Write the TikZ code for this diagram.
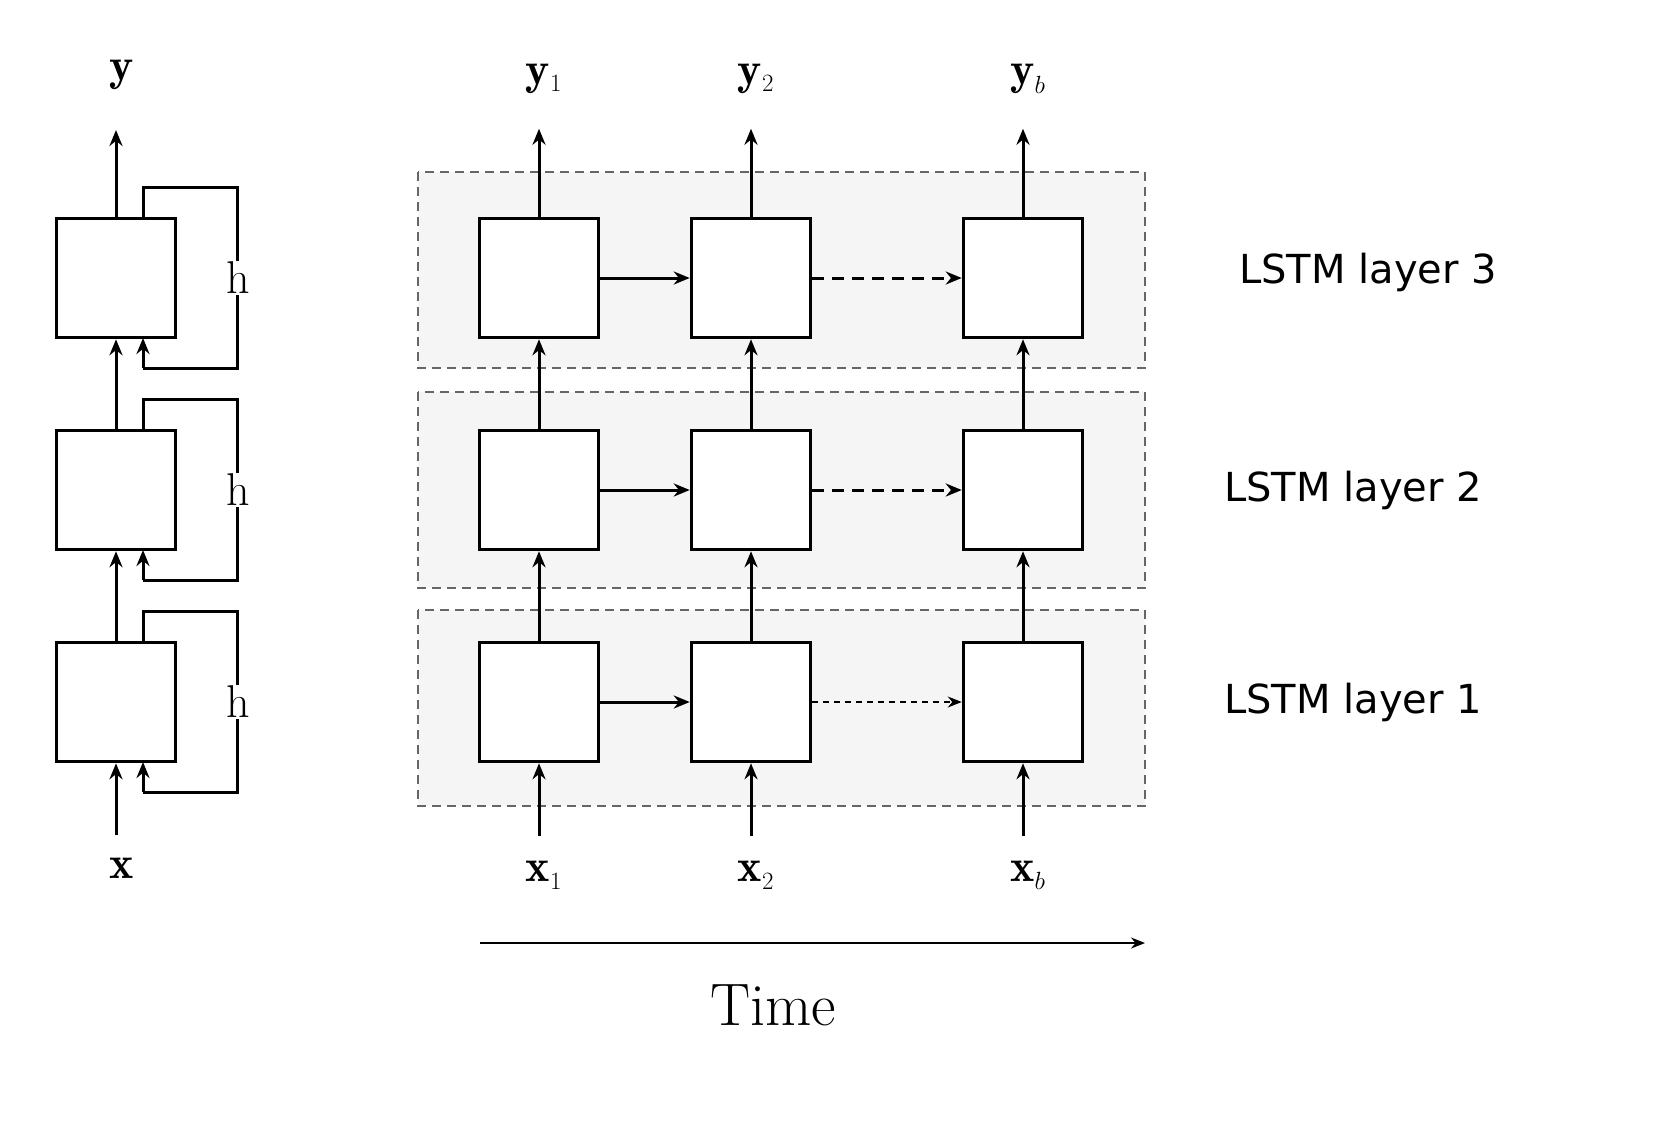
\documentclass[tikz,border=0pt]{standalone}
\usepackage{fontspec}
\newfontfamily\djsans{DejaVu Sans}
\usetikzlibrary{arrows.meta}
\begin{document}
\begin{tikzpicture}[x=1pt,y=-1pt,
 box/.style={draw,line width=3.5pt,minimum size=119pt,inner sep=0,fill=white},
 ar/.style={line width=3pt,-{Stealth[length=16pt,width=13pt]}},
 lay/.style={draw=gray!80!black,dashed,line width=2.5pt,fill=black!4,dash pattern=on 9pt off 6pt},
 lab/.style={font=\fontsize{46}{50}\selectfont},
 ll/.style={font=\djsans\fontsize{40}{44}\selectfont}]
\useasboundingbox (0,0) rectangle (1661,1136);
% left
\foreach \r/\yy in {1/702,2/490,3/278}{
 \node[box] (L\r) at (116,\yy) {};
 \coordinate (T\r) at (143,\yy-60);
 \coordinate (B\r) at (143,\yy+60);
 \draw[line width=3pt] (T\r) -- ++(0,-31) -- ++(94,0) coordinate (h\r) -- ++(0,181) -- ++(-94,0) coordinate (e\r);
 \draw[ar] (e\r) -- (B\r);
 \node[fill=white,inner sep=1pt,font=\fontsize{46}{50}\selectfont] at (238,\yy) {h};
}
\draw[ar] (L1.north) -- (L2.south);
\draw[ar] (L2.north) -- (L3.south);
\node[lab] (y) at (122,75) {$\mathbf{y}$};
\node[lab] (x) at (122,868) {$\mathbf{x}$};
\draw[ar] (L3.north) -- (116,130);
\draw[ar] (116,835) -- (L1.south);
% layers
\foreach \yy in {172,392,610}{\path[lay] (418,\yy) rectangle (1145,\yy+196);}
\foreach \r/\yy in {1/702,2/490,3/278}{
 \foreach \c/\xx in {1/539,2/751,3/1023}{\node[box] (N\r\c) at (\xx,\yy) {};}
 \draw[ar] (N\r1) -- (N\r2);
}
\draw[ar,dashed,dash pattern=on 12pt off 8pt] (N32) -- (N33);
\draw[ar,dashed,dash pattern=on 12pt off 8pt] (N22) -- (N23);
\draw[line width=2pt,dashed,dash pattern=on 6pt off 5pt,-{Stealth[length=14pt,width=11pt]}] (N12) -- (N13);
\foreach \c/\s in {1/1,2/2,3/b}{
 \draw[ar] (N1\c) -- (N2\c);
 \draw[ar] (N2\c) -- (N3\c);
 \path (N3\c.north) ++(0,-88) coordinate (yt\c);
 \draw[ar] (N3\c) -- (yt\c);
 \path (N1\c.south) ++(0,73) coordinate (xb\c);
 \draw[ar] (xb\c) -- (N1\c);
 \path (N3\c.north) ++(5,-138) node[lab] {$\mathbf{y}_{\s}$};
 \path (N1\c.south) ++(5,112) node[lab] {$\mathbf{x}_{\s}$};
}
\node[ll] at (1368,272) {LSTM layer 3};
\node[ll] at (1353,490) {LSTM layer 2};
\node[ll] at (1353,702) {LSTM layer 1};
\coordinate (t0) at (480,943); \coordinate (t1) at (1145,943);
\draw[line width=2pt,-{Stealth[length=14pt,width=11pt]}] (t0) -- (t1);
\node[font=\fontsize{60}{64}\selectfont] at (773,1005) {Time};
\end{tikzpicture}
\end{document}
